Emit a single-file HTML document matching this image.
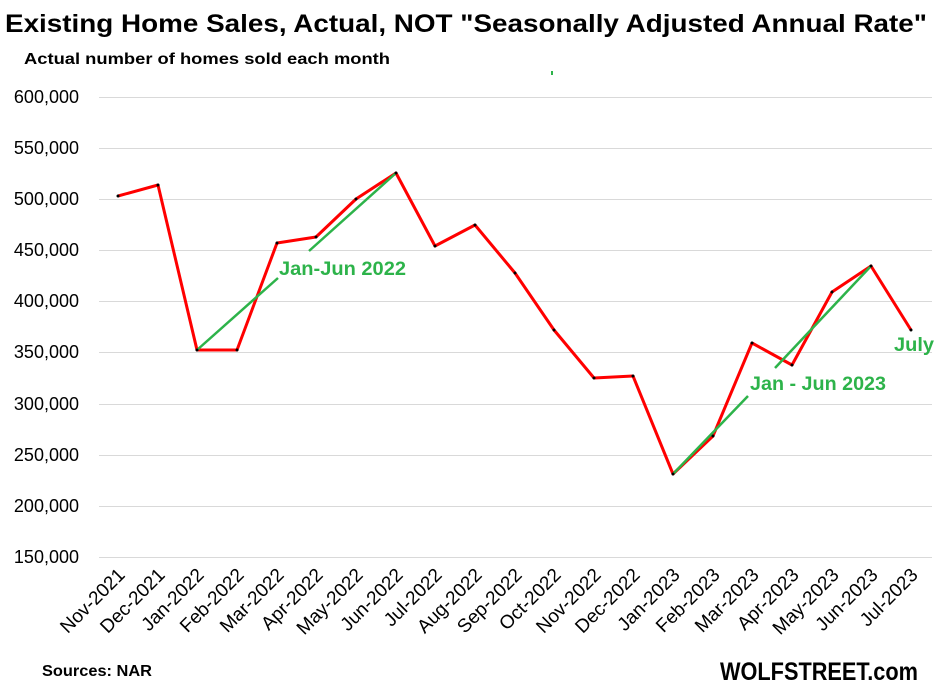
<!DOCTYPE html>
<html><head><meta charset="utf-8"><style>
body{margin:0;background:#fff;}
svg{display:block;font-family:"Liberation Sans",Arial,sans-serif;}
</style></head><body>
<svg width="936" height="699" viewBox="0 0 936 699">
<rect width="936" height="699" fill="#fff"/>
<text x="5" y="32" font-size="25" font-weight="bold" fill="#000" textLength="922" lengthAdjust="spacingAndGlyphs">Existing Home Sales, Actual, NOT "Seasonally Adjusted Annual Rate"</text>
<text x="24" y="64" font-size="16" font-weight="bold" fill="#000" textLength="366" lengthAdjust="spacingAndGlyphs">Actual number of homes sold each month</text>
<g stroke="#d9d9d9" stroke-width="1">
<line x1="99" x2="932" y1="97.5" y2="97.5"/><line x1="99" x2="932" y1="148.5" y2="148.5"/>
<line x1="99" x2="932" y1="199.5" y2="199.5"/><line x1="99" x2="932" y1="250.5" y2="250.5"/>
<line x1="99" x2="932" y1="301.5" y2="301.5"/><line x1="99" x2="932" y1="352.5" y2="352.5"/>
<line x1="99" x2="932" y1="404.5" y2="404.5"/><line x1="99" x2="932" y1="455.5" y2="455.5"/>
<line x1="99" x2="932" y1="506.5" y2="506.5"/><line x1="99" x2="932" y1="557.5" y2="557.5"/>
</g>
<g font-size="18" fill="#000" text-anchor="end">
<text x="79" y="103">600,000</text><text x="79" y="154">550,000</text><text x="79" y="205">500,000</text>
<text x="79" y="256">450,000</text><text x="79" y="307">400,000</text><text x="79" y="358">350,000</text>
<text x="79" y="410">300,000</text><text x="79" y="461">250,000</text><text x="79" y="512">200,000</text>
<text x="79" y="563">150,000</text>
</g>
<rect x="551" y="71" width="2" height="4" fill="#2db34a"/>
<polyline fill="none" stroke="#ff0000" stroke-width="3" stroke-linejoin="round" points="118,196 158,185 197,350 237,350 277,243 316,237 356,199 396,173 435,246 475,225 515,273 554,330 594,378 633,376 673,474 713,436 752,343 792,365 832,292 871,266 911,330"/>
<g stroke="#2db34a" stroke-width="2.5">
<line x1="197" y1="350" x2="278" y2="278"/><line x1="309" y1="251" x2="396" y2="173"/>
<line x1="673" y1="474" x2="748" y2="396"/><line x1="775" y1="368" x2="871" y2="266"/>
</g>
<g fill="#000">
<circle cx="118" cy="196" r="1.5"/><circle cx="158" cy="185" r="1.5"/><circle cx="197" cy="350" r="1.5"/><circle cx="237" cy="350" r="1.5"/><circle cx="277" cy="243" r="1.5"/><circle cx="316" cy="237" r="1.5"/><circle cx="356" cy="199" r="1.5"/><circle cx="396" cy="173" r="1.5"/><circle cx="435" cy="246" r="1.5"/><circle cx="475" cy="225" r="1.5"/><circle cx="515" cy="273" r="1.5"/><circle cx="554" cy="330" r="1.5"/><circle cx="594" cy="378" r="1.5"/><circle cx="633" cy="376" r="1.5"/><circle cx="673" cy="474" r="1.5"/><circle cx="713" cy="436" r="1.5"/><circle cx="752" cy="343" r="1.5"/><circle cx="792" cy="365" r="1.5"/><circle cx="832" cy="292" r="1.5"/><circle cx="871" cy="266" r="1.5"/><circle cx="911" cy="330" r="1.5"/>
</g>
<g font-size="19" font-weight="bold" fill="#2db34a">
<text x="279" y="275" textLength="127" lengthAdjust="spacingAndGlyphs">Jan-Jun 2022</text>
<text x="750" y="390" textLength="136" lengthAdjust="spacingAndGlyphs">Jan - Jun 2023</text>
<text x="894" y="351" textLength="40" lengthAdjust="spacingAndGlyphs">July</text>
</g>
<g font-size="19" fill="#000" text-anchor="end">
<text transform="translate(126,576) rotate(-45)">Nov-2021</text>
<text transform="translate(166,576) rotate(-45)">Dec-2021</text>
<text transform="translate(205,576) rotate(-45)">Jan-2022</text>
<text transform="translate(245,576) rotate(-45)">Feb-2022</text>
<text transform="translate(285,576) rotate(-45)">Mar-2022</text>
<text transform="translate(324,576) rotate(-45)">Apr-2022</text>
<text transform="translate(364,576) rotate(-45)">May-2022</text>
<text transform="translate(404,576) rotate(-45)">Jun-2022</text>
<text transform="translate(443,576) rotate(-45)">Jul-2022</text>
<text transform="translate(483,576) rotate(-45)">Aug-2022</text>
<text transform="translate(523,576) rotate(-45)">Sep-2022</text>
<text transform="translate(562,576) rotate(-45)">Oct-2022</text>
<text transform="translate(602,576) rotate(-45)">Nov-2022</text>
<text transform="translate(641,576) rotate(-45)">Dec-2022</text>
<text transform="translate(681,576) rotate(-45)">Jan-2023</text>
<text transform="translate(721,576) rotate(-45)">Feb-2023</text>
<text transform="translate(760,576) rotate(-45)">Mar-2023</text>
<text transform="translate(800,576) rotate(-45)">Apr-2023</text>
<text transform="translate(840,576) rotate(-45)">May-2023</text>
<text transform="translate(879,576) rotate(-45)">Jun-2023</text>
<text transform="translate(919,576) rotate(-45)">Jul-2023</text>
</g>
<text x="42" y="676" font-size="16" font-weight="bold" fill="#000" textLength="110" lengthAdjust="spacingAndGlyphs">Sources: NAR</text>
<text x="720" y="680" font-size="25" font-weight="bold" fill="#000" textLength="198" lengthAdjust="spacingAndGlyphs">WOLFSTREET.com</text>
</svg>
</body></html>
